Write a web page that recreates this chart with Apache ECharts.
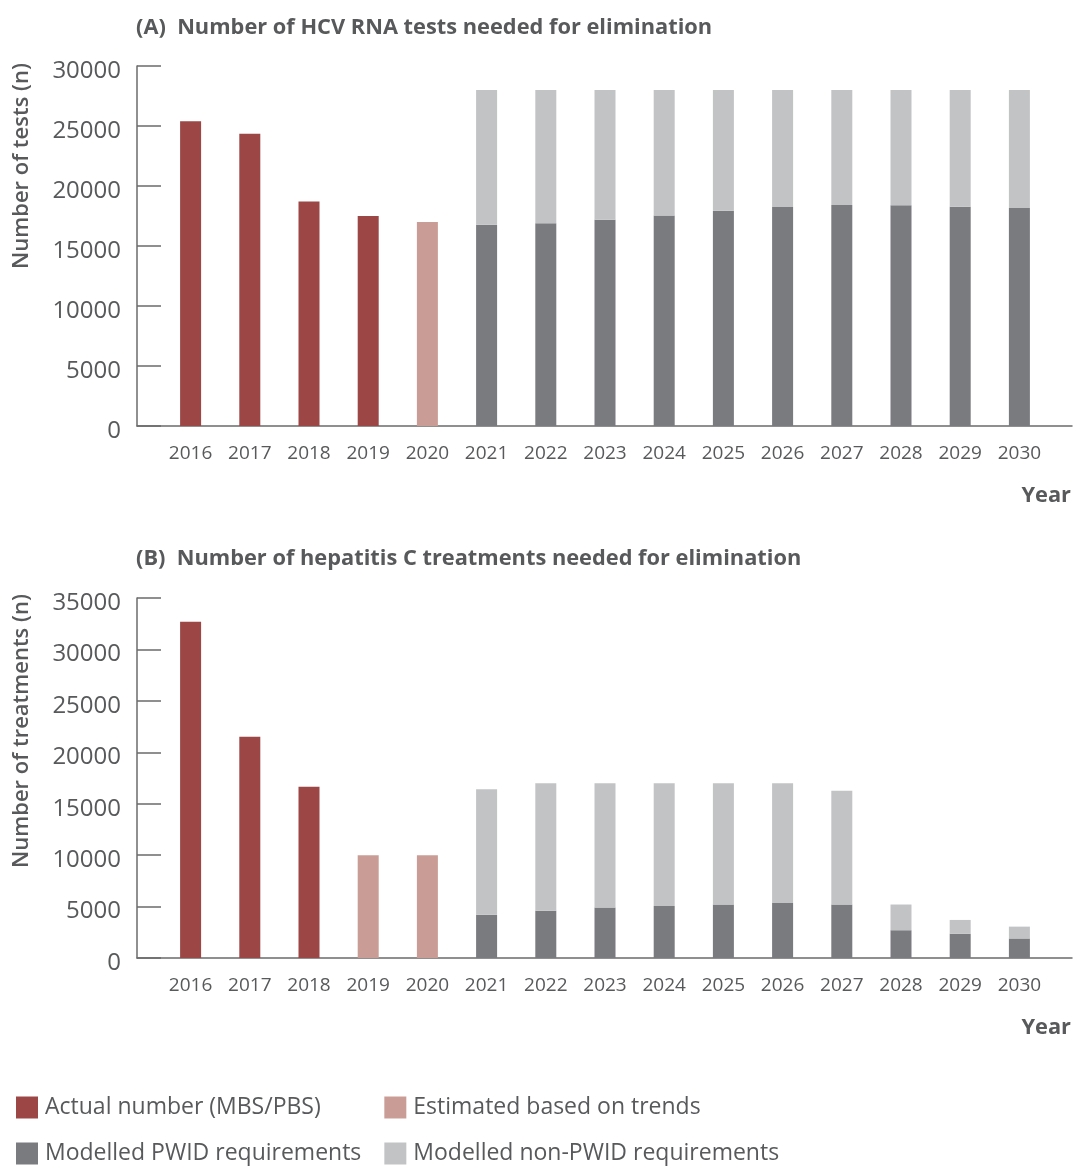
<!DOCTYPE html>
<html><head><meta charset="utf-8">
<script src="https://cdn.jsdelivr.net/npm/echarts@6/dist/echarts.min.js"></script>
<style>html,body{margin:0;padding:0;background:#fff}#c{width:1074px;height:1166px}</style>
</head><body><div id="c"></div>
<script>
const years = ['2016','2017','2018','2019','2020','2021','2022','2023','2024','2025','2026','2027','2028','2029','2030'];
const yTicksA = {min: 0, max: 30000, interval: 5000};
const yTicksB = {min: 0, max: 35000, interval: 5000};

// (A) HCV RNA tests
const testsActual    = [25400, 24350, 18700, 17500, '-', '-', '-', '-', '-', '-', '-', '-', '-', '-', '-'];
const testsEstimated = ['-', '-', '-', '-', 17000, '-', '-', '-', '-', '-', '-', '-', '-', '-', '-'];
const testsPWID      = ['-', '-', '-', '-', '-', 16780, 16890, 17190, 17550, 17940, 18250, 18420, 18390, 18280, 18170];
const testsNonPWID   = ['-', '-', '-', '-', '-', 11220, 11110, 10810, 10450, 10060, 9750, 9580, 9610, 9720, 9830];

// (B) hepatitis C treatments
const treatActual    = [32700, 21500, 16650, '-', '-', '-', '-', '-', '-', '-', '-', '-', '-', '-', '-'];
const treatEstimated = ['-', '-', '-', 10000, 10000, '-', '-', '-', '-', '-', '-', '-', '-', '-', '-'];
const treatPWID      = ['-', '-', '-', '-', '-', 4200, 4600, 4900, 5050, 5200, 5350, 5200, 2700, 2350, 1900];
const treatNonPWID   = ['-', '-', '-', '-', '-', 12200, 12400, 12100, 11950, 11800, 11650, 11050, 2500, 1350, 1150];

const NAMES = ['Actual number (MBS/PBS)', 'Estimated based on trends', 'Modelled PWID requirements', 'Modelled non-PWID requirements'];
const COLORS = ['#9c4646', '#ca9c96', '#7a7b7f', '#c2c3c5'];
const TXT = '#58595b';
const AX = '#6b6b6b';
const FONT = "'Open Sans', 'Noto Sans', sans-serif";
const TFONT = "'Open Sans', 'Noto Sans', sans-serif";

function grids(top) {
  return [
    {left: 161, right: 25, top: top, height: 360},
    {left: 137, right: 2, top: top, height: 360}
  ];
}
function xAxes(gi) {
  return [
    {type: 'category', gridIndex: gi, data: years,
     axisLine: {show: false}, axisTick: {show: false},
     axisLabel: {fontSize: 19, color: TXT, fontFamily: FONT, margin: 18}},
    {type: 'value', gridIndex: gi + 1, min: 0, max: 1,
     axisLine: {show: true, lineStyle: {color: AX, width: 1.5}},
     axisTick: {show: false}, axisLabel: {show: false}, splitLine: {show: false}}
  ];
}
function yAxes(gi, t, name, pad) {
  return [
    {type: 'value', gridIndex: gi, min: t.min, max: t.max, interval: t.interval, show: false},
    {type: 'value', gridIndex: gi + 1, min: t.min, max: t.max, interval: t.interval,
     axisLine: {show: true, lineStyle: {color: AX, width: 1.5}},
     axisTick: {show: true, inside: true, length: 24, lineStyle: {color: AX, width: 1.5}},
     axisLabel: {margin: 16, formatter: v => '{n|' + v + '}',
       rich: {n: {fontSize: 24, color: TXT, fontFamily: FONT, padding: [10, 0, 0, 0]}}},
     splitLine: {show: false},
     name: name, nameLocation: 'middle', nameGap: 104, nameRotate: 90,
     nameTextStyle: {fontSize: 22, color: TXT, fontFamily: FONT, fontWeight: 600, padding: [0, 0, 0, pad]}}
  ];
}
function series(xi, yi, arrs) {
  return arrs.map((d, i) => ({
    name: NAMES[i], type: 'bar', xAxisIndex: xi, yAxisIndex: yi, stack: 'total' + xi,
    barWidth: 21, data: d, itemStyle: {color: COLORS[i]}, emphasis: {disabled: true}
  }));
}
const titleStyle = {fontSize: 21.8, fontWeight: 'bold', color: TXT, fontFamily: TFONT};

const chart = echarts.init(document.getElementById('c'));
chart.setOption({
  animation: false,
  backgroundColor: '#fff',
  title: [
    {text: '(A)  Number of HCV RNA tests needed for elimination', left: 136, top: 17, padding: 0, textStyle: titleStyle},
    {text: 'Year', right: 3, top: 485, padding: 0, textStyle: titleStyle},
    {text: '(B)  Number of hepatitis C treatments needed for elimination', left: 136, top: 548, padding: 0, textStyle: titleStyle},
    {text: 'Year', right: 3, top: 1017, padding: 0, textStyle: titleStyle}
  ],
  legend: {
    orient: 'vertical', left: 16, top: 1096, height: 72, itemGap: 23, padding: 0,
    itemWidth: 22, itemHeight: 22, icon: 'rect',
    data: [NAMES[0], NAMES[2], NAMES[1], NAMES[3]],
    textStyle: {fontSize: 23, color: TXT, fontFamily: FONT, width: 326, padding: [0, 0, 0, 2]}
  },
  grid: grids(66).concat(grids(598)),
  xAxis: xAxes(0).concat(xAxes(2)),
  yAxis: yAxes(0, yTicksA, 'Number of tests (n)', 160).concat(yAxes(2, yTicksB, 'Number of treatments (n)', 94)),
  series: series(0, 0, [testsActual, testsEstimated, testsPWID, testsNonPWID])
    .concat(series(2, 2, [treatActual, treatEstimated, treatPWID, treatNonPWID]))
});
</script></body></html>
